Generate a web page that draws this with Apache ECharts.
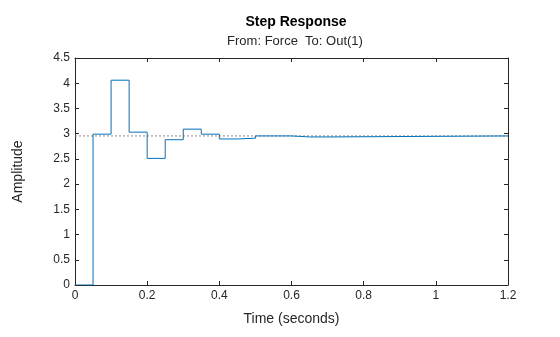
<!DOCTYPE html>
<html><head><meta charset="utf-8">
<script src="https://cdn.jsdelivr.net/npm/echarts@6/dist/echarts.min.js"></script>
<style>html,body{margin:0;padding:0;background:#fff}#c{width:560px;height:337px}</style>
</head><body><div id="c"></div>
<script>
const times = [0, 0.05, 0.1, 0.15, 0.2, 0.25, 0.3, 0.35, 0.4, 0.45, 0.5, 0.55, 0.6, 0.65, 0.7, 1.2];
const amplitude = [0, 2.99, 4.06, 3.03, 2.51, 2.88, 3.09, 2.99, 2.895, 2.91, 2.955, 2.955, 2.935, 2.935, 2.955, 2.955];
const steadyState = 2.955;
const xTicks = ['0', '0.2', '0.4', '0.6', '0.8', '1', '1.2'];
const yTicks = ['0', '0.5', '1', '1.5', '2', '2.5', '3', '3.5', '4', '4.5'];
const titleText = 'Step Response';
const subtitleText = 'From: Force  To: Out(1)';

const font = 'Liberation Sans, Arial, sans-serif';
const axisCol = '#262626';
const chart = echarts.init(document.getElementById('c'));
const stepData = times.map((t, i) => [t, amplitude[i]]);
const baseAxis = {
  axisLine: {show: true, onZero: false, lineStyle: {color: axisCol, width: 1}},
  axisTick: {show: true, inside: true, length: 4, lineStyle: {color: axisCol}},
  splitLine: {show: false}
};
chart.setOption({
  animation: false,
  title: [
    {text: titleText, left: 291, top: 10, textAlign: 'center',
     textStyle: {fontFamily: font, fontSize: 14, fontWeight: 'bold', color: '#000'}},
    {text: subtitleText, left: 290, top: 30, textAlign: 'center',
     textStyle: {fontFamily: font, fontSize: 13, fontWeight: 'normal', color: '#262626'}}
  ],
  grid: {left: 75, right: 52, top: 58, bottom: 52, containLabel: false},
  xAxis: [
    Object.assign({}, baseAxis, {type: 'value', min: 0, max: 1.2, interval: 0.2, position: 'bottom',
      name: 'Time (seconds)', nameLocation: 'middle', nameGap: 27,
      nameTextStyle: {fontFamily: font, fontSize: 14, color: axisCol},
      axisLabel: {fontFamily: font, fontSize: 12, color: axisCol, margin: 5,
        formatter: (v) => xTicks[Math.round(v / 0.2)]}}),
    Object.assign({}, baseAxis, {type: 'value', min: 0, max: 1.2, interval: 0.2, position: 'top',
      axisLabel: {show: false}})
  ],
  yAxis: [
    Object.assign({}, baseAxis, {type: 'value', min: 0, max: 4.5, interval: 0.5, position: 'left',
      name: 'Amplitude', nameLocation: 'middle', nameGap: 50, nameRotate: 90,
      nameTextStyle: {fontFamily: font, fontSize: 14, color: axisCol},
      axisLabel: {fontFamily: font, fontSize: 12, color: axisCol, margin: 5,
        formatter: (v) => yTicks[Math.round(v / 0.5)]}}),
    Object.assign({}, baseAxis, {type: 'value', min: 0, max: 4.5, interval: 0.5, position: 'right',
      axisLabel: {show: false}})
  ],
  series: [
    {type: 'line', xAxisIndex: 0, yAxisIndex: 0, data: [[0, steadyState], [1.2, steadyState]],
     symbol: 'none', silent: true,
     lineStyle: {color: '#8c8c8c', width: 1, type: [2, 2]}},
    {type: 'line', xAxisIndex: 0, yAxisIndex: 0, data: stepData, step: 'end',
     symbol: 'none', lineStyle: {color: '#0072BD', width: 1}}
  ]
});
</script></body></html>
